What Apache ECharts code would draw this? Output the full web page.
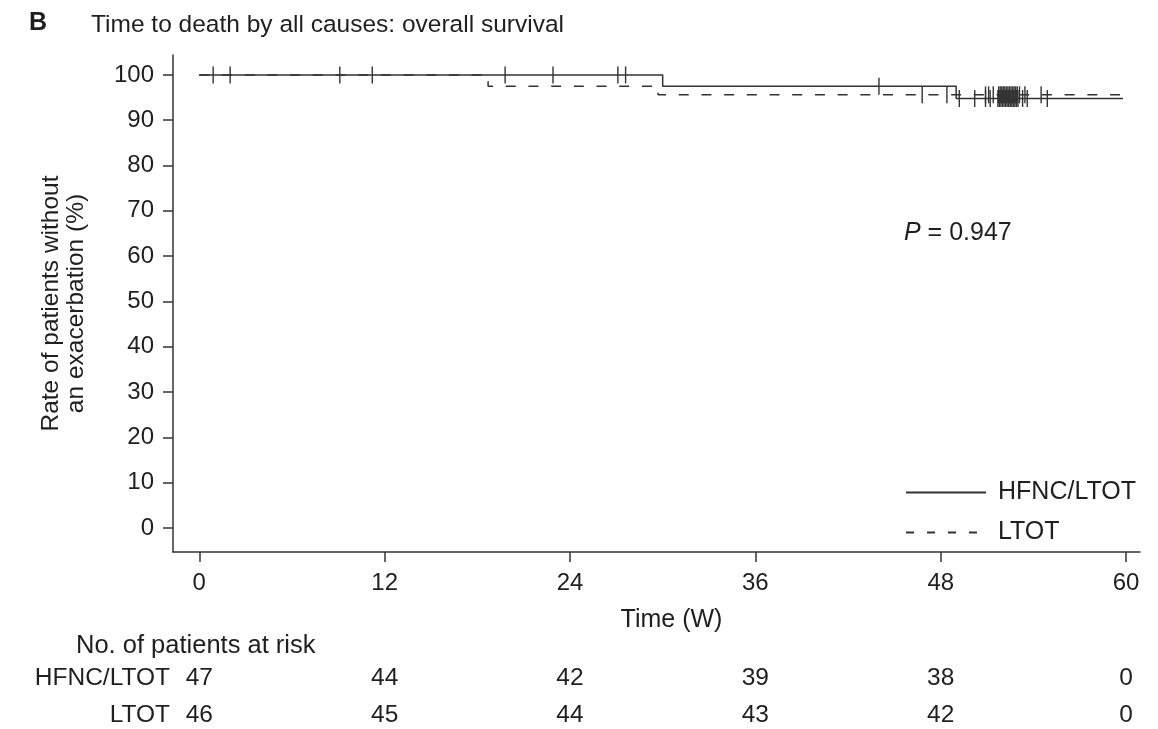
<!DOCTYPE html>
<html>
<head>
<meta charset="utf-8">
<script src="https://cdn.jsdelivr.net/npm/echarts@6/dist/echarts.min.js"></script>
<style>
  html, body { margin: 0; padding: 0; background: #fff; }
  #main { width: 1158px; height: 729px; }
</style>
</head>
<body>
<div id="main"></div>
<script>
// step curves (time in weeks, survival %)
const hfncTimes = [0, 30, 49, 59.8];
const hfncSurv = [100, 97.5, 94.8, 94.8];
const ltotTimes = [0, 18.7, 29.7, 59.8];
const ltotSurv = [100, 97.5, 95.6, 95.6];

// censored observations (weeks)
const hfncCensor = [0.9, 2.0, 11.2, 19.8, 22.9, 27.1, 27.6, 44.0, 49.2, 50.2, 50.9, 51.2,
  51.7, 51.8, 51.9, 52.0, 52.1, 52.2, 52.3, 52.4, 52.5, 52.6, 52.7, 52.8, 52.9, 53.0,
  53.3, 53.6, 54.9];
const ltotCensor = [9.1, 46.8, 48.4, 50.9, 51.1, 51.4, 51.75, 51.85, 51.95, 52.05, 52.15,
  52.25, 52.35, 52.45, 52.55, 52.65, 52.75, 52.85, 52.95, 53.1, 53.45, 54.5];

// number at risk table
const riskGroups = ['HFNC/LTOT', 'LTOT'];
const riskTimes = [0, 12, 24, 36, 48, 60];
const hfncRisk = [47, 44, 42, 39, 38, 0];
const ltotRisk = [46, 45, 44, 43, 42, 0];

const xTicks = [0, 12, 24, 36, 48, 60];
const yTicks = [0, 10, 20, 30, 40, 50, 60, 70, 80, 90, 100];

const FONT = '"Liberation Sans", Arial, Helvetica, sans-serif';
const INK = '#1f1f1f';
const LINE = '#333';

function levelAt(times, surv, t) {
  let v = surv[0];
  for (let i = 0; i < times.length; i++) {
    if (times[i] <= t) v = surv[i];
  }
  return v;
}

const chart = echarts.init(document.getElementById('main'));

const option = {
  animation: false,
  textStyle: { fontFamily: FONT, color: INK },
  title: [
    { text: 'B', left: 24, top: 6, textStyle: { fontFamily: FONT, fontSize: 25, fontWeight: 'bold', color: INK } },
    { text: 'Time to death by all causes: overall survival', left: 86, top: 8,
      textStyle: { fontFamily: FONT, fontSize: 24.5, fontWeight: 'normal', color: INK } },
    { text: 'No. of patients at risk', left: 71, top: 628,
      textStyle: { fontFamily: FONT, fontSize: 25.5, fontWeight: 'normal', color: INK } }
  ],
  grid: [
    { left: 173, right: 18, top: 55, bottom: 177 },
    { left: 173, right: 18, top: 678, height: 37 }
  ],
  legend: {
    left: 900, top: 475, orient: 'vertical',
    itemWidth: 80, itemHeight: 24, itemGap: 15,
    textStyle: { fontFamily: FONT, fontSize: 25, color: INK, padding: [0, 0, 0, 7] },
    data: [
      { name: 'HFNC/LTOT', itemStyle: { opacity: 0 } },
      { name: 'LTOT', itemStyle: { opacity: 0 }, lineStyle: { type: [8, 13] } }
    ]
  },
  xAxis: [
    {
      gridIndex: 0, type: 'value', min: -1.7, max: 60.9,
      name: 'Time (W)', nameLocation: 'middle', nameGap: 56,
      nameTextStyle: { fontFamily: FONT, fontSize: 25, color: INK, padding: [0, 0, 0, 30] },
      splitLine: { show: false },
      axisLine: { onZero: false, lineStyle: { color: LINE, width: 1.5 } },
      axisTick: { show: true, length: 10, customValues: xTicks, lineStyle: { color: LINE, width: 1.5 } },
      axisLabel: { customValues: xTicks, margin: 19, fontFamily: FONT, fontSize: 24, color: INK }
    },
    {
      gridIndex: 1, type: 'value', min: -1.7, max: 60.9, show: false
    }
  ],
  yAxis: [
    {
      gridIndex: 0, type: 'value', min: -5.3, max: 104.4,
      name: 'Rate of patients without\nan exacerbation (%)', nameLocation: 'middle', nameGap: 84,
      nameRotate: 90,
      nameTextStyle: { fontFamily: FONT, fontSize: 24.5, color: INK, lineHeight: 25 },
      splitLine: { show: false },
      axisLine: { show: true, onZero: false, lineStyle: { color: LINE, width: 1.5 } },
      axisTick: { show: true, length: 10, customValues: yTicks, lineStyle: { color: LINE, width: 1.5 } },
      axisLabel: { customValues: yTicks, margin: 19, fontFamily: FONT, fontSize: 24, color: INK }
    },
    {
      gridIndex: 1, type: 'category', inverse: true, boundaryGap: false, data: riskGroups,
      axisLine: { show: false }, axisTick: { show: false },
      axisLabel: { margin: 3, fontFamily: FONT, fontSize: 24.5, color: INK }
    }
  ],
  graphic: [
    {
      type: 'text', left: 904, top: 221,
      style: {
        text: '{i|P} = 0.947', fill: INK, font: '25px ' + FONT,
        rich: { i: { fontStyle: 'italic', fontSize: 25, fontFamily: FONT, fill: INK } }
      }
    }
  ],
  series: [
    {
      name: 'HFNC/LTOT', type: 'line', step: 'end', symbol: 'none',
      xAxisIndex: 0, yAxisIndex: 0,
      lineStyle: { color: LINE, width: 1.5, type: 'solid' },
      itemStyle: { color: LINE },
      data: hfncTimes.map((t, i) => [t, hfncSurv[i]])
    },
    {
      name: 'LTOT', type: 'line', step: 'end', symbol: 'none',
      xAxisIndex: 0, yAxisIndex: 0,
      lineStyle: { color: LINE, width: 1.5, type: [10, 12.7] },
      itemStyle: { color: LINE },
      data: ltotTimes.map((t, i) => [t, ltotSurv[i]])
    },
    {
      name: 'HFNC censored', type: 'scatter', symbol: 'rect', symbolSize: [1.4, 17],
      xAxisIndex: 0, yAxisIndex: 0,
      itemStyle: { color: LINE, opacity: 1 },
      data: hfncCensor.map(t => [t, levelAt(hfncTimes, hfncSurv, t)])
    },
    {
      name: 'LTOT censored', type: 'scatter', symbol: 'rect', symbolSize: [1.4, 17],
      xAxisIndex: 0, yAxisIndex: 0,
      itemStyle: { color: LINE, opacity: 1 },
      data: ltotCensor.map(t => [t, levelAt(ltotTimes, ltotSurv, t)])
    },
    {
      name: 'risk', type: 'scatter', symbolSize: 1,
      xAxisIndex: 1, yAxisIndex: 1,
      itemStyle: { color: 'rgba(0,0,0,0)', opacity: 1 },
      label: {
        show: true, position: 'inside', fontFamily: FONT, fontSize: 24.5, color: INK,
        textBorderWidth: 0,
        formatter: p => String(p.value[2])
      },
      data: riskTimes.map((t, i) => [t, riskGroups[0], hfncRisk[i]])
        .concat(riskTimes.map((t, i) => [t, riskGroups[1], ltotRisk[i]]))
    }
  ]
};

chart.setOption(option);
</script>
</body>
</html>
